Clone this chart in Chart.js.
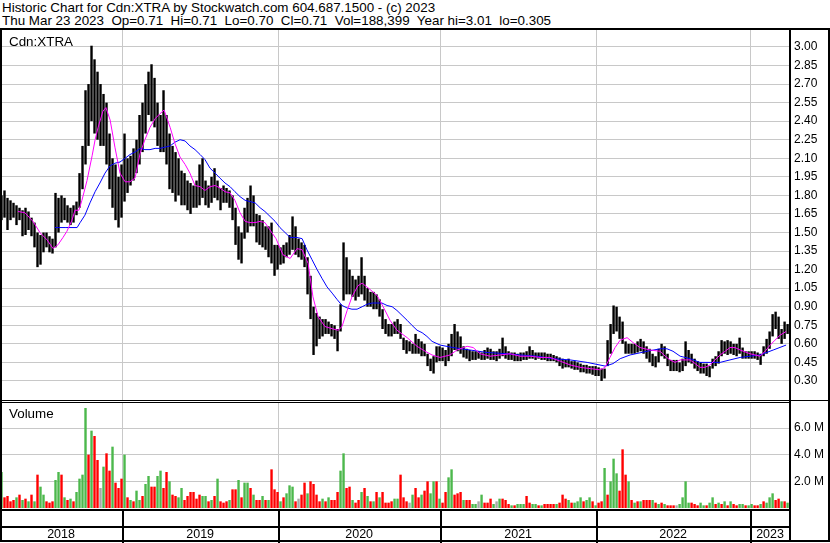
<!DOCTYPE html>
<html lang="en">
<head>
<meta charset="UTF-8">
<title>Historic Chart for Cdn:XTRA</title>
<script src="https://cdn.jsdelivr.net/npm/chart.js"></script>
<style>
  body { margin: 0; background: #fff; font-family: "Liberation Sans", Arial, sans-serif; color: #000; }
  #page { position: relative; width: 830px; height: 543px; overflow: hidden; }
  .txt { position: absolute; font-size: 13.4px; line-height: 13px; white-space: pre; }
  .rule { position: absolute; background: #000; }
  canvas { position: absolute; left: 0; }
</style>
</head>
<body>
<div id="page">
  <canvas id="price" width="830" height="370" style="top:30px"></canvas>
  <canvas id="volume" width="830" height="140" style="top:403px"></canvas>

  <div class="txt" style="left:2px; top:1px">Historic Chart for Cdn:XTRA by Stockwatch.com 604.687.1500 - (c) 2023</div>
  <div class="txt" style="left:2px; top:14px">Thu Mar 23 2023  Op=0.71  Hi=0.71  Lo=0.70  Cl=0.71  Vol=188,399  Year hi=3.01  lo=0.305</div>
  <div class="txt" style="left:9px; top:35px">Cdn:XTRA</div>
  <div class="txt" style="left:9px; top:407px">Volume</div>

  <div class="rule" style="left:0; top:28px; width:830px; height:2px"></div>
  <div class="rule" style="left:0; top:28px; width:2px; height:514px"></div>
  <div class="rule" style="left:789px; top:28px; width:2px; height:514px"></div>
  <div class="rule" style="left:828px; top:28px; width:2px; height:514px"></div>
  <div class="rule" style="left:0; top:400px; width:830px; height:1px"></div>
  <div class="rule" style="left:0; top:402px; width:790px; height:1px"></div>
  <div class="rule" style="left:0; top:540px; width:830px; height:2px"></div>
</div>

<script>
// x is a period index (about one week each); year starts
const yearStart = [40.7, 92.7, 146.7, 198.7, 250.0];
const yearLabels = ['2018', '2019', '2020', '2021', '2022', '2023'];
const priceTicks = [0.30, 0.45, 0.60, 0.75, 0.90, 1.05, 1.20, 1.35, 1.50, 1.65, 1.80, 1.95, 2.10, 2.25, 2.40, 2.55, 2.70, 2.85, 3.00];
const volTicks = [2, 4, 6];

const high = [
  1.80,1.84,1.78,1.76,1.74,1.72,1.70,1.68,1.70,1.67,1.62,1.58,1.50,1.48,1.50,1.50,1.47,1.45,1.82,1.78,
  1.80,1.78,1.72,1.70,1.72,1.75,1.98,2.20,2.65,2.70,3.01,2.90,2.80,2.70,2.62,2.55,2.30,2.10,2.05,1.95,
  2.05,2.30,2.10,2.12,2.18,2.25,2.45,2.55,2.70,2.80,2.86,2.75,2.55,2.45,2.65,2.45,2.30,2.20,2.15,2.10,
  2.00,1.98,1.92,1.90,1.88,1.92,2.05,2.10,1.92,1.88,1.95,2.02,1.92,1.86,1.88,1.86,1.84,1.80,1.70,1.55,
  1.50,1.70,1.78,1.88,1.80,1.65,1.64,1.60,1.55,1.55,1.58,1.40,1.40,1.38,1.40,1.42,1.48,1.63,1.55,1.45,
  1.42,1.40,1.30,1.15,0.90,0.85,0.82,0.80,0.80,0.78,0.76,0.75,0.72,0.92,1.42,1.30,1.20,1.15,1.12,1.15,
  1.30,1.15,1.05,1.02,1.02,1.00,0.96,0.88,0.80,0.76,0.76,0.78,0.80,0.76,0.65,0.63,0.62,0.60,0.68,0.64,
  0.62,0.60,0.52,0.48,0.50,0.58,0.58,0.57,0.55,0.60,0.68,0.76,0.70,0.66,0.58,0.56,0.55,0.54,0.54,0.54,
  0.53,0.55,0.57,0.56,0.54,0.54,0.56,0.65,0.58,0.54,0.53,0.53,0.52,0.53,0.53,0.54,0.58,0.55,0.53,0.53,
  0.53,0.53,0.52,0.52,0.51,0.50,0.49,0.48,0.47,0.48,0.46,0.46,0.45,0.44,0.43,0.43,0.42,0.42,0.42,0.41,
  0.40,0.40,0.63,0.76,0.91,0.90,0.82,0.78,0.62,0.60,0.60,0.60,0.62,0.64,0.62,0.58,0.56,0.52,0.50,0.56,
  0.60,0.58,0.52,0.47,0.47,0.47,0.45,0.48,0.62,0.55,0.52,0.48,0.46,0.45,0.44,0.44,0.42,0.48,0.50,0.54,
  0.63,0.62,0.63,0.62,0.60,0.60,0.65,0.57,0.54,0.54,0.54,0.54,0.53,0.52,0.58,0.64,0.70,0.84,0.86,0.82,
  0.72,0.78,0.76
];
const low = [
  1.60,1.62,1.52,1.60,1.62,1.56,1.60,1.47,1.48,1.52,1.47,1.38,1.22,1.24,1.34,1.38,1.34,1.33,1.38,1.50,
  1.58,1.60,1.58,1.56,1.58,1.64,1.70,1.85,2.05,2.20,2.40,2.30,2.25,2.20,2.20,2.05,1.85,1.70,1.60,1.54,
  1.62,1.75,1.82,1.88,1.92,1.98,2.05,2.15,2.30,2.45,2.40,2.35,2.20,2.15,2.15,2.05,1.85,1.82,1.75,1.80,
  1.72,1.72,1.68,1.65,1.70,1.70,1.72,1.78,1.72,1.70,1.74,1.78,1.76,1.68,1.74,1.74,1.70,1.60,1.40,1.28,
  1.25,1.45,1.50,1.55,1.55,1.42,1.40,1.38,1.36,1.30,1.25,1.15,1.20,1.24,1.25,1.30,1.32,1.36,1.32,1.30,
  1.28,1.22,1.00,0.80,0.51,0.58,0.64,0.66,0.68,0.68,0.66,0.64,0.54,0.70,0.95,1.00,1.00,0.98,0.95,0.98,
  1.00,0.95,0.90,0.90,0.88,0.88,0.82,0.72,0.68,0.66,0.66,0.68,0.68,0.64,0.55,0.52,0.54,0.52,0.52,0.52,
  0.50,0.50,0.42,0.38,0.36,0.45,0.46,0.46,0.42,0.46,0.50,0.55,0.54,0.52,0.49,0.48,0.46,0.47,0.47,0.48,
  0.47,0.47,0.48,0.47,0.47,0.46,0.48,0.50,0.48,0.47,0.47,0.46,0.46,0.46,0.47,0.47,0.48,0.48,0.47,0.48,
  0.47,0.47,0.46,0.46,0.46,0.45,0.42,0.40,0.41,0.41,0.40,0.39,0.39,0.37,0.37,0.36,0.36,0.35,0.34,0.34,
  0.30,0.32,0.42,0.52,0.68,0.70,0.64,0.60,0.52,0.52,0.52,0.52,0.53,0.54,0.52,0.48,0.45,0.42,0.41,0.45,
  0.50,0.48,0.42,0.38,0.38,0.38,0.37,0.38,0.42,0.45,0.44,0.40,0.38,0.36,0.36,0.34,0.33,0.40,0.42,0.44,
  0.50,0.52,0.51,0.52,0.51,0.50,0.52,0.48,0.48,0.48,0.48,0.48,0.47,0.43,0.50,0.52,0.56,0.66,0.72,0.64,
  0.60,0.64,0.68
];

// short moving average (magenta), read at these periods
const pinkAt = [6.0,8.3,11.0,13.3,15.7,17.7,19.3,21.0,22.3,24.0,25.0,26.3,27.3,29.0,30.7,31.7,32.7,34.3,35.3,36.7,
  38.3,40.0,41.7,43.3,45.0,46.7,48.3,50.0,51.7,53.3,54.7,56.7,58.3,60.0,61.7,63.3,65.0,66.7,68.3,70.0,
  71.7,73.3,75.0,76.7,78.3,80.0,81.7,83.3,85.0,86.7,88.3,90.0,92.0,94.3,96.7,99.0,100.7,102.7,104.3,106.0,
  108.3,111.0,112.7,114.0,115.7,117.3,119.3,120.7,123.3,125.7,127.7,130.0,132.3,135.7,139.0,141.7,144.0,146.7,150.0,152.3,
  155.7,157.7,160.0,163.3,166.7,170.0,173.3,176.7,180.0,183.3,186.7,190.0,193.3,196.7,200.0,201.7,203.3,205.0,206.7,209.0,
  211.0,213.3,216.7,220.0,221.7,223.3,225.0,226.7,230.0,231.7,233.3,235.0,236.7,238.3,240.0,241.7,243.3,245.0,246.7,250.0,
  253.3,255.0,256.7,258.3,260.0,262.0];
const pinkVal = [1.67,1.66,1.59,1.50,1.44,1.37,1.40,1.46,1.51,1.60,1.68,1.68,1.76,1.92,2.12,2.25,2.35,2.48,2.51,2.41,
  2.19,1.98,1.91,1.91,1.94,2.14,2.25,2.35,2.42,2.46,2.49,2.35,2.22,2.11,2.05,1.98,1.88,1.87,1.84,1.87,
  1.88,1.86,1.83,1.82,1.76,1.66,1.59,1.58,1.58,1.59,1.58,1.52,1.45,1.32,1.29,1.37,1.36,1.25,0.98,0.82,
  0.74,0.72,0.71,0.74,0.87,0.98,1.07,1.09,1.04,0.99,0.90,0.79,0.71,0.65,0.58,0.54,0.51,0.49,0.51,0.55,
  0.58,0.57,0.52,0.50,0.51,0.52,0.50,0.50,0.49,0.49,0.46,0.43,0.41,0.40,0.39,0.41,0.49,0.57,0.63,0.65,
  0.61,0.57,0.55,0.54,0.50,0.47,0.45,0.47,0.47,0.44,0.41,0.41,0.43,0.47,0.51,0.54,0.57,0.57,0.55,0.52,
  0.50,0.54,0.59,0.63,0.67,0.70];

// long moving average (blue)
const blueAt = [18.3,21.7,25.7,26.7,28.3,30.0,31.7,33.3,35.0,36.7,38.3,40.0,41.7,43.3,45.0,46.7,48.3,50.0,51.7,53.3,
  55.0,56.7,58.3,60.0,61.7,63.3,65.0,66.7,68.3,70.0,71.7,73.3,75.0,76.7,78.3,80.0,81.7,83.3,85.0,86.7,
  88.3,90.0,91.7,93.3,95.0,96.7,99.0,100.7,102.3,104.0,105.7,107.3,109.0,110.7,112.3,114.0,115.7,117.3,119.0,120.7,
  122.3,124.0,127.3,129.0,130.7,132.3,134.0,135.7,137.3,139.0,140.7,142.3,144.0,146.7,151.0,156.7,162.3,169.0,173.3,179.0,
  184.3,190.0,195.7,201.7,204.3,206.7,210.0,215.7,220.0,222.3,224.3,226.7,230.0,233.3,236.7,240.0,243.3,246.7,250.0,253.3,
  257.7,262.0];
const blueVal = [1.54,1.54,1.54,1.58,1.64,1.74,1.83,1.90,1.98,2.04,2.06,2.07,2.10,2.13,2.15,2.18,2.17,2.17,2.18,2.18,
  2.19,2.20,2.23,2.25,2.24,2.20,2.17,2.13,2.09,2.02,1.98,1.94,1.90,1.87,1.83,1.79,1.76,1.75,1.74,1.70,
  1.67,1.63,1.59,1.54,1.50,1.46,1.46,1.45,1.36,1.28,1.20,1.13,1.06,1.01,0.96,0.91,0.89,0.88,0.88,0.90,
  0.92,0.93,0.93,0.91,0.90,0.87,0.83,0.79,0.75,0.71,0.69,0.66,0.62,0.59,0.57,0.55,0.53,0.52,0.51,0.50,
  0.48,0.47,0.45,0.42,0.44,0.48,0.51,0.54,0.56,0.56,0.54,0.50,0.48,0.45,0.45,0.45,0.47,0.49,0.50,0.51,
  0.55,0.59];

// volume in millions, G = up, R = down, N = unchanged
const volume = [
  2.7,0.8,0.9,0.5,0.6,0.8,1.0,0.6,0.7,0.5,1.0,0.5,2.5,1.6,1.0,0.5,0.4,0.5,2.1,2.7,
  2.5,0.8,0.6,0.7,0.5,1.2,2.2,2.5,7.5,4.0,5.8,5.4,3.6,1.5,3.1,4.1,2.8,4.6,1.9,1.5,
  2.2,4.0,0.8,0.6,0.5,1.3,0.6,0.9,1.8,2.4,1.6,1.6,2.4,2.8,1.5,2.7,2.0,1.0,0.9,0.8,
  1.5,0.6,0.9,1.2,1.2,0.7,1.0,0.9,0.9,0.5,0.6,0.9,2.2,0.5,0.4,0.5,0.6,1.4,1.4,2.1,
  0.8,1.9,1.9,1.5,1.0,0.6,0.6,0.9,0.6,0.6,2.9,1.4,1.2,0.5,0.8,1.1,1.7,1.6,0.5,0.7,
  1.0,1.9,1.1,2.0,1.8,1.0,0.5,0.7,0.5,0.8,0.6,0.6,1.2,2.8,4.1,1.5,1.6,0.6,0.4,0.6,
  1.2,1.5,0.9,0.5,0.5,1.2,0.8,1.2,0.4,0.4,0.5,0.7,0.7,2.5,0.8,0.5,0.4,1.0,1.5,0.8,
  1.0,1.3,2.0,1.1,2.0,2.0,0.7,0.4,1.2,2.3,2.9,1.0,1.1,1.2,0.6,0.6,0.6,0.3,0.3,0.5,
  1.0,0.4,0.4,0.7,0.3,0.5,0.7,0.7,0.6,0.3,0.2,0.2,0.3,0.3,0.3,0.9,0.4,0.3,0.3,0.2,
  0.2,0.3,0.3,0.3,0.3,0.3,0.4,1.0,0.7,0.6,0.4,0.4,0.5,0.8,0.5,0.6,0.8,0.5,0.2,0.4,
  0.5,3.0,1.0,2.0,3.7,2.6,1.3,4.4,2.5,2.0,0.6,0.4,0.5,0.5,0.6,0.6,0.6,0.6,0.4,0.3,
  0.4,0.3,0.2,0.2,0.2,0.2,0.3,0.8,2.0,0.4,0.4,0.3,0.2,0.4,0.2,0.2,0.4,0.8,0.3,0.4,
  0.3,0.5,0.2,0.5,0.3,0.2,0.3,0.3,0.2,0.2,0.3,0.2,0.2,0.3,0.5,0.4,0.8,1.1,0.6,0.7,
  0.5,0.5,0.4
];
const volDir = (
  'GRRRRGRGRGRGRGGRRRGG' + 'RGRGRGGGGRGRRNGRRGRR' + 'RGRGRGGRGGRRGGRRGRRG' + 'GRRRRRRGGRGRGRRRGRRG' +
  'RGGRGRRGRGRRRGRGGGRN' + 'RRGRRRRGRGRRRGGRRGRR' + 'GRGRGRGRRRRGGRRRNGRR' + 'GRRGGRGRRGGRRRGRRGGN' +
  'GRRRGNGRRRGRGGGRRGGR' + 'GRRRRGRRRGRGGGRGGRGR' + 'RGRGGGRRRGRGRGRRRGRG' + 'RGRRRNGGGGRRRGGRGGRG' +
  'RGRGRRGGRGGRRGRGGGRR' + 'GRG'
).split('');

const colorFor = { G: '#4cb84c', R: '#ff0000', N: '#a8a8a8' };
const font = '"Liberation Sans", Arial, sans-serif';
Chart.defaults.font.family = font;
Chart.defaults.font.size = 12;
Chart.defaults.color = '#000';

function noPad(s) {
  s.paddingTop = 0; s.paddingBottom = 0; s.paddingLeft = 0; s.paddingRight = 0;
}

function timeAxis() {
  return {
    type: 'linear', min: 0, max: 263.3, offset: false,
    afterBuildTicks: s => { s.ticks = yearStart.map(v => ({ value: v })); },
    afterFit: s => { s.height = 0; noPad(s); },
    ticks: { display: false },
    grid: { color: '#c8c8c8', drawTicks: false, offset: false },
    border: { display: false }
  };
}

function rightAxis(min, max, ticks, fmt) {
  return {
    position: 'right', min: min, max: max,
    afterBuildTicks: s => { s.ticks = ticks.map(v => ({ value: v })); },
    afterFit: s => { s.width = 40; noPad(s); },
    ticks: { padding: 4, callback: fmt },
    grid: { color: '#c8c8c8', drawTicks: false },
    border: { display: false }
  };
}

new Chart(document.getElementById('price'), {
  type: 'bar',
  data: {
    datasets: [
      {
        type: 'line', order: 1,
        data: pinkAt.map((x, i) => ({ x: x, y: pinkVal[i] })),
        borderColor: '#ff00ff', borderWidth: 1, pointRadius: 0
      },
      {
        type: 'line', order: 2,
        data: blueAt.map((x, i) => ({ x: x, y: blueVal[i] })),
        borderColor: '#0000ff', borderWidth: 1, pointRadius: 0
      },
      {
        type: 'bar', order: 3,
        data: high.map((h, i) => ({ x: i + 0.5, y: [low[i], h] })),
        backgroundColor: '#000', barPercentage: 0.8, categoryPercentage: 1
      }
    ]
  },
  options: {
    responsive: false, animation: false,
    layout: { padding: 0, autoPadding: false },
    plugins: { legend: { display: false }, tooltip: { enabled: false } },
    scales: {
      x: timeAxis(),
      y: rightAxis(0.146, 3.137, priceTicks, v => v.toFixed(2))
    }
  }
});

// year strip under the volume panel
const yearStrip = {
  id: 'yearStrip',
  afterDraw(chart) {
    const { ctx, chartArea } = chart;
    const x = chart.scales.x;
    const top = chartArea.bottom;
    ctx.save();
    ctx.fillStyle = '#000';
    ctx.fillRect(0, top + 1, chartArea.right, 2);
    ctx.fillRect(0, top + 18, chartArea.right, 2);
    yearStart.forEach(v => {
      const px = Math.round(x.getPixelForValue(v));
      ctx.fillRect(px, top + 1, 2, chart.height - top - 1);
    });
    ctx.font = '12.5px ' + font;
    ctx.textAlign = 'center';
    ctx.textBaseline = 'middle';
    const edges = [x.min].concat(yearStart, [x.max]);
    yearLabels.forEach((t, i) => {
      const a = x.getPixelForValue(edges[i]);
      const b = x.getPixelForValue(edges[i + 1]);
      ctx.fillText(t, (a + b) / 2, top + 27);
    });
    ctx.restore();
  }
};

new Chart(document.getElementById('volume'), {
  type: 'bar',
  data: {
    datasets: [{
      data: volume.map((v, i) => ({ x: i + 0.5, y: v })),
      backgroundColor: volDir.map(d => colorFor[d]),
      barPercentage: 0.8, categoryPercentage: 1
    }]
  },
  options: {
    responsive: false, animation: false,
    layout: { padding: { top: 0, left: 0, right: 0, bottom: 35 }, autoPadding: false },
    plugins: { legend: { display: false }, tooltip: { enabled: false } },
    scales: {
      x: timeAxis(),
      y: rightAxis(0, 7.875, volTicks, v => v.toFixed(1) + ' M')
    }
  },
  plugins: [yearStrip]
});
</script>
</body>
</html>
